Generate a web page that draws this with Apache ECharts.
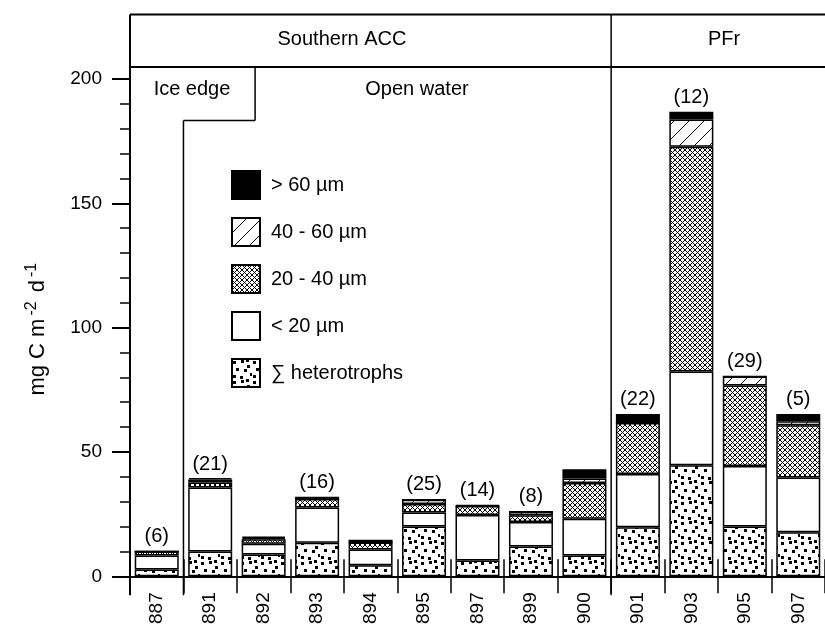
<!DOCTYPE html>
<html>
<head>
<meta charset="utf-8">
<script src="https://cdn.jsdelivr.net/npm/echarts@6/dist/echarts.min.js"></script>
<style>
  html, body { margin: 0; padding: 0; background: #fff; }
  #chart { width: 825px; height: 627px; }
</style>
</head>
<body>
<div id="chart"></div>
<script>
// Station numbers along the transect
const stations = ['887', '891', '892', '893', '894', '895', '897', '899', '900', '901', '903', '905', '907'];

// Production by size class, mg C m-2 d-1 (stacked from the bottom)
const heterotrophs = [2.7, 10.0, 8.8, 13.5, 4.4, 20.0, 6.4, 12.0, 8.4, 19.7, 44.7, 20.0, 17.7];
const lt20         = [5.7, 25.7, 4.3, 14.2, 6.4, 5.7, 18.3, 9.8, 14.7, 21.4, 37.7, 24.4, 22.0];
const s20to40      = [1.6, 2.0, 1.8, 3.4, 2.8, 3.4, 3.6, 2.8, 14.4, 20.6, 90.4, 32.3, 21.0];
const s40to60      = [0, 1.2, 0.6, 0, 0, 1.7, 0, 1.4, 1.8, 0, 10.9, 3.7, 1.7];
const gt60         = [0, 0.6, 0.5, 0.9, 1.1, 0, 0.4, 0, 3.8, 3.6, 3.1, 0, 2.9];

// Number of samples per station (null = not given)
const counts = [6, 21, null, 16, null, 25, 14, 8, null, 22, 12, 29, 5];

const FONT = "'Liberation Sans', Arial, Helvetica, sans-serif";

// Fill patterns for the size classes
function tile(w, h, draw) {
  const c = document.createElement('canvas');
  c.width = w; c.height = h;
  const g = c.getContext('2d');
  g.fillStyle = '#fff';
  g.fillRect(0, 0, w, h);
  g.fillStyle = '#000';
  g.strokeStyle = '#000';
  draw(g, w, h);
  return { image: c, repeat: 'repeat' };
}

const dotted = tile(20, 20, (g) => {
  const pts = [[1, 2], [9, 1], [15, 6], [4, 9], [12, 10], [18, 14], [1, 16], [8, 17], [14, 0]];
  pts.forEach(p => g.fillRect(p[0], p[1], 3, 3));
});

const crossHatch = tile(5, 5, (g) => {
  for (let i = 0; i < 5; i++) {
    g.fillRect(i, i, 1, 1);
    g.fillRect(4 - i, i, 1, 1);
  }
});

const diagonal = tile(15, 15, (g, w, h) => {
  g.lineWidth = 1;
  g.beginPath();
  g.moveTo(-2, h + 2); g.lineTo(w + 2, -2);
  g.moveTo(-2 - w, h + 2); g.lineTo(2, -2);
  g.moveTo(w - 2, h + 2); g.lineTo(2 * w + 2, -2);
  g.stroke();
});

const edge = { borderColor: '#000', borderWidth: 1.5 };

const chart = echarts.init(document.getElementById('chart'), null, { renderer: 'canvas' });

const option = {
  backgroundColor: '#fff',
  animation: false,
  textStyle: { fontFamily: FONT, color: '#000' },
  grid: { left: 130, right: -11, top: 79, bottom: 46, containLabel: false },
  legend: {
    orient: 'vertical',
    left: 226,
    top: 165,
    itemWidth: 28,
    itemHeight: 28,
    itemGap: 17,
    icon: 'rect',
    selectedMode: false,
    data: ['> 60 µm', '40 - 60 µm', '20 - 40 µm', '< 20 µm', '∑ heterotrophs'],
    textStyle: { fontFamily: FONT, fontSize: 20, color: '#000', padding: [0, 0, 0, 6] }
  },
  xAxis: [
    {
      type: 'category',
      data: stations,
      axisLine: { show: true, lineStyle: { color: '#000', width: 2 } },
      axisTick: { show: true, length: 17, lineStyle: { color: '#000', width: 1.5 } },
      axisLabel: { interval: 0, rotate: 90, margin: 16, fontSize: 19, color: '#000', fontFamily: FONT }
    },
    {
      // separators rising between the bars
      type: 'category',
      data: stations,
      position: 'bottom',
      axisLine: { show: false },
      axisTick: { show: true, inside: true, length: 17, lineStyle: { color: '#000', width: 1.5 } },
      axisLabel: { show: false }
    }
  ],
  yAxis: {
    type: 'value',
    min: 0,
    max: 200,
    interval: 50,
    name: 'mg C m{sup|-2} d{sup|-1}',
    nameLocation: 'middle',
    nameRotate: 90,
    nameGap: 79,
    nameTextStyle: {
      fontFamily: FONT, fontSize: 22, color: '#000', padding: [0, 0, 0, 0],
      rich: { sup: { fontFamily: FONT, fontSize: 16, color: '#000', padding: [0, 3, 11, 3] } }
    },
    axisLine: { show: false },
    axisTick: { show: true, length: 18, lineStyle: { color: '#000', width: 2 } },
    minorTick: { show: true, splitNumber: 5, length: 10, lineStyle: { color: '#000', width: 1.5 } },
    splitLine: { show: false },
    axisLabel: { fontSize: 19, color: '#000', margin: 28, fontFamily: FONT }
  },
  series: [
    { name: '∑ heterotrophs', type: 'bar', stack: 'total', barWidth: 44, data: heterotrophs,
      itemStyle: Object.assign({ color: dotted }, edge) },
    { name: '< 20 µm', type: 'bar', stack: 'total', barWidth: 44, data: lt20,
      itemStyle: Object.assign({ color: '#fff' }, edge) },
    { name: '20 - 40 µm', type: 'bar', stack: 'total', barWidth: 44, data: s20to40,
      itemStyle: Object.assign({ color: crossHatch }, edge) },
    { name: '40 - 60 µm', type: 'bar', stack: 'total', barWidth: 44, data: s40to60,
      itemStyle: Object.assign({ color: diagonal }, edge) },
    { name: '> 60 µm', type: 'bar', stack: 'total', barWidth: 44, data: gt60,
      itemStyle: Object.assign({ color: '#000' }, edge),
      label: {
        show: true, position: 'top', distance: 4, fontSize: 20, color: '#000', fontFamily: FONT,
        formatter: (p) => counts[p.dataIndex] == null ? '' : '(' + counts[p.dataIndex] + ')'
      }
    }
  ]
};

chart.setOption(option);

// Region frame (Southern ACC / PFr, ice edge / open water) tied to the axes
const yPx = v => chart.convertToPixel({ yAxisIndex: 0 }, v);
const c0 = chart.convertToPixel({ xAxisIndex: 0 }, stations[0]);
const c1 = chart.convertToPixel({ xAxisIndex: 0 }, stations[1]);
const band = c1 - c0;
const xb = k => c0 - band / 2 + k * band;

const yTop = yPx(225.9), yMid = yPx(204.8), yStep = yPx(183.3), yLow = yPx(-7.6);
const xLeft = xb(0), xIce = xb(1), xIceBox = xb(2.34), xPF = xb(9), xRight = xb(13);

function seg(x1, y1, x2, y2, w) {
  return { type: 'line', shape: { x1, y1, x2, y2 }, style: { stroke: '#000', lineWidth: w || 1.5 }, z: 10 };
}
function label(text, x, y) {
  return { type: 'text', x, y, style: { text, fontFamily: FONT, fontSize: 20, fill: '#000', align: 'center', verticalAlign: 'middle' }, z: 10 };
}

chart.setOption({
  graphic: [
    seg(xLeft, yTop, xLeft, yLow, 2),
    seg(xLeft, yTop, xRight, yTop, 2),
    seg(xLeft, yMid, xRight, yMid, 2),
    seg(xPF, yTop, xPF, yLow, 1.5),
    seg(xIceBox, yMid, xIceBox, yStep, 1.5),
    seg(xIce, yStep, xIceBox, yStep, 1.5),
    seg(xIce, yStep, xIce, yLow, 1.5),
    label('Southern ACC', 342, (yTop + yMid) / 2 - 1),
    label('PFr', 724, (yTop + yMid) / 2 - 1),
    label('Ice edge', 192, 89),
    label('Open water', 417, 89)
  ]
});
</script>
</body>
</html>
